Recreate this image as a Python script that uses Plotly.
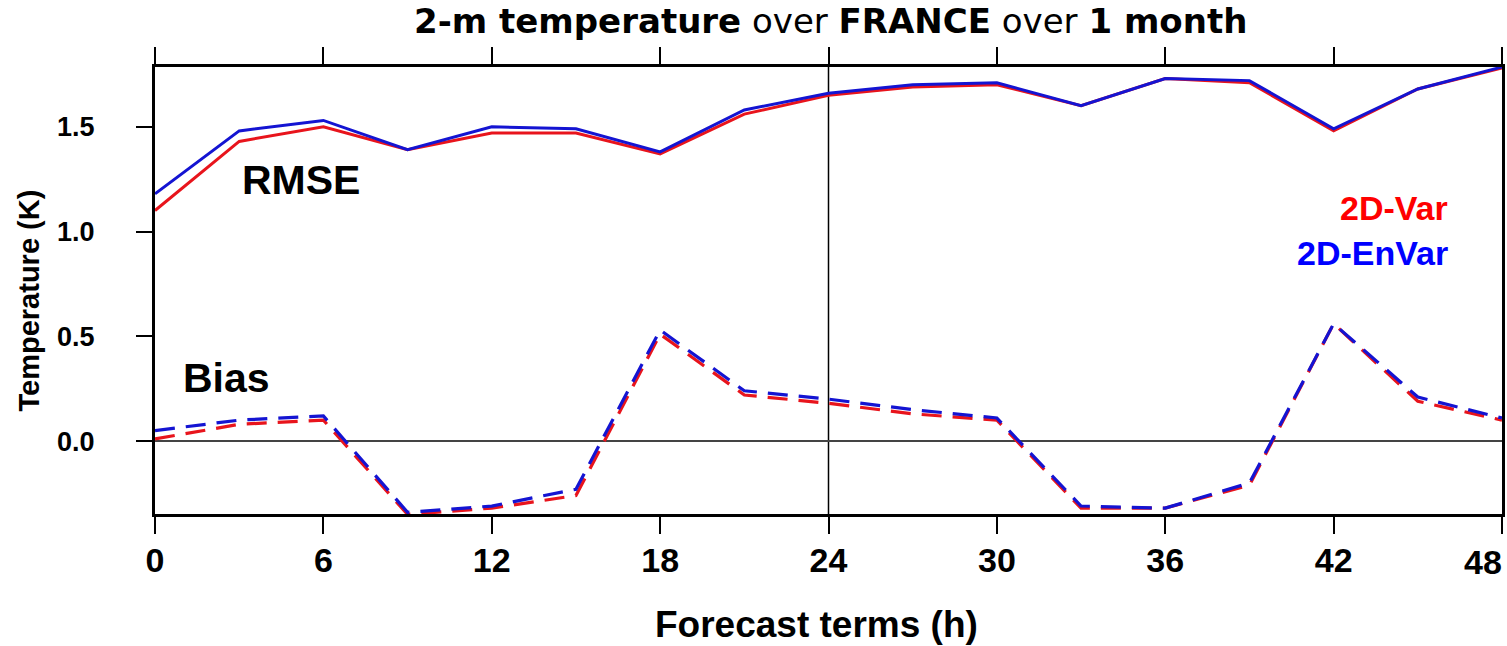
import plotly.graph_objects as go

hours = [0, 3, 6, 9, 12, 15, 18, 21, 24, 27, 30, 33, 36, 39, 42, 45, 48]
rmse_2dvar = [1.10, 1.43, 1.50, 1.39, 1.47, 1.47, 1.37, 1.56, 1.65, 1.69, 1.70, 1.60, 1.73, 1.71, 1.48, 1.68, 1.78]
rmse_2denvar = [1.18, 1.48, 1.53, 1.39, 1.50, 1.49, 1.38, 1.58, 1.66, 1.70, 1.71, 1.60, 1.73, 1.72, 1.49, 1.68, 1.785]
bias_2dvar = [0.01, 0.08, 0.10, -0.35, -0.32, -0.26, 0.51, 0.22, 0.18, 0.13, 0.10, -0.32, -0.32, -0.21, 0.56, 0.19, 0.10]
bias_2denvar = [0.05, 0.10, 0.12, -0.34, -0.31, -0.23, 0.53, 0.24, 0.20, 0.15, 0.11, -0.31, -0.32, -0.20, 0.56, 0.21, 0.11]

x_ticks = [0, 6, 12, 18, 24, 30, 36, 42, 48]
x_tick_labels = ["0", "6", "12", "18", "24", "30", "36", "42", ""]
last_x_label = "48"
y_ticks = [0.0, 0.5, 1.0, 1.5]
y_tick_labels = ["0.0", "0.5", "1.0", "1.5"]
ref_hour = 24

RED = "#e8141c"
BLUE = "#1414d2"
FONT = "Liberation Sans, Arial, sans-serif"

fig = go.Figure()
fig.add_trace(go.Scatter(x=hours, y=rmse_2dvar, mode="lines", name="2D-Var RMSE",
                         line=dict(color=RED, width=3)))
fig.add_trace(go.Scatter(x=hours, y=rmse_2denvar, mode="lines", name="2D-EnVar RMSE",
                         line=dict(color=BLUE, width=3)))
fig.add_trace(go.Scatter(x=hours, y=bias_2dvar, mode="lines", name="2D-Var Bias",
                         line=dict(color=RED, width=3.2, dash="20px,11px")))
fig.add_trace(go.Scatter(x=hours, y=bias_2denvar, mode="lines", name="2D-EnVar Bias",
                         line=dict(color=BLUE, width=3.2, dash="20px,11px")))

fig.add_vline(x=ref_hour, line=dict(color="black", width=1.5), layer="below")

fig.update_layout(
    width=1507, height=646,
    margin=dict(l=155, r=2, t=67, b=132),
    paper_bgcolor="white", plot_bgcolor="white",
    showlegend=False,
    font=dict(family=FONT, color="black"),
    xaxis=dict(
        range=[0, 48], tickvals=x_ticks, ticktext=x_tick_labels, ticks="outside", ticklen=17,
        tickwidth=1.5, tickcolor="black", showline=True, linewidth=3, linecolor="black",
        mirror="ticks", showgrid=False, zeroline=False,
        tickfont=dict(family=FONT, size=34, color="black", weight="bold"),
        ticklabelstandoff=-3,
    ),
    yaxis=dict(
        range=[-0.348, 1.785], tickvals=y_ticks, ticktext=y_tick_labels, ticks="outside",
        ticklen=16, tickwidth=1.5, tickcolor="black", showline=True, linewidth=3,
        linecolor="black", mirror=True, showgrid=False,
        zeroline=True, zerolinecolor="#444444", zerolinewidth=1.5,
        tickfont=dict(family=FONT, size=27, color="black", weight="bold"),
        ticklabelstandoff=36,
    ),
)

annotations = [
    dict(text="<b>2-m temperature</b> over <b>FRANCE</b> over <b>1 month</b>",
         xref="paper", yref="paper", x=0.5, y=1, yshift=46, xshift=2,
         xanchor="center", yanchor="middle", showarrow=False,
         font=dict(family="DejaVu Sans", size=34, color="black")),
    dict(text="<b>Forecast terms (h)</b>", xref="paper", yref="paper", x=0.5, y=0,
         xshift=-12, yshift=-110, xanchor="center", yanchor="middle", showarrow=False,
         font=dict(family=FONT, size=37, color="black")),
    dict(text="<b>Temperature (K)</b>", xref="paper", yref="paper", x=0, y=0.5,
         xshift=-127, yshift=-10, xanchor="center", yanchor="middle", textangle=-90,
         showarrow=False, font=dict(family=FONT, size=29, color="black")),
    dict(text="<b>" + last_x_label + "</b>", xref="x", yref="paper", x=48, y=0,
         xshift=2, yshift=-48, xanchor="right", yanchor="middle", showarrow=False,
         font=dict(family=FONT, size=34, color="black")),
    dict(text="<b>RMSE</b>", xref="x", yref="y", x=5.2, y=1.245, xanchor="center",
         yanchor="middle", showarrow=False, font=dict(family=FONT, size=41, color="black")),
    dict(text="<b>Bias</b>", xref="x", yref="y", x=2.56, y=0.30, xanchor="center",
         yanchor="middle", showarrow=False, font=dict(family=FONT, size=41, color="black")),
    dict(text="<b>2D-Var</b>", xref="x", yref="y", x=46.15, y=1.114, xanchor="right",
         yanchor="middle", showarrow=False, font=dict(family=FONT, size=34, color="#ff0000")),
    dict(text="<b>2D-EnVar</b>", xref="x", yref="y", x=46.15, y=0.898, xanchor="right",
         yanchor="middle", showarrow=False, font=dict(family=FONT, size=34, color="#0000ff")),
]
fig.update_layout(annotations=annotations)

fig.write_html("out.html")
